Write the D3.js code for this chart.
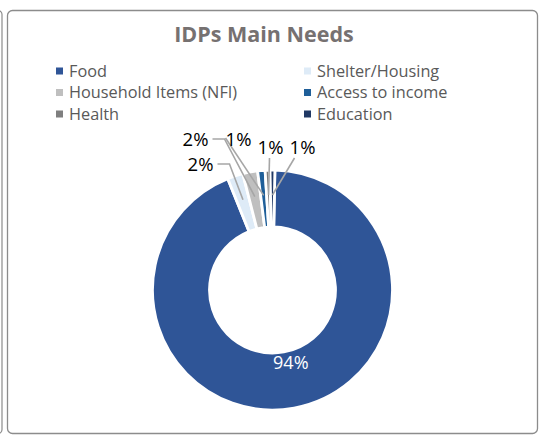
<!DOCTYPE html>
<html>
<head>
<meta charset="utf-8">
<script src="https://cdn.jsdelivr.net/npm/d3@7"></script>
<style>
  body { margin: 0; background: #fff; }
  svg { display: block; font-family: "Open Sans", "Noto Sans", sans-serif; }
</style>
</head>
<body>
<div id="chart"></div>
<script>
// data
const categories = ["Food", "Shelter/Housing", "Household Items (NFI)", "Access to income", "Health", "Education"];
const shares = [93.6, 2.1, 2.0, 1.0, 0.65, 0.65];
const labels = ["94%", "2%", "2%", "1%", "1%", "1%"];
const colors = ["#2f5597", "#deebf7", "#bfbfbf", "#1f5f99", "#7f7f7f", "#203864"];

const W = 541, H = 436;
const svg = d3.select("#chart").append("svg")
    .attr("width", W)
    .attr("height", H);

// frame(s)
svg.append("rect")
    .attr("x", -12).attr("y", 10.5)
    .attr("width", 14).attr("height", 423)
    .attr("rx", 4)
    .attr("fill", "none")
    .attr("stroke", "#8c8c8c")
    .attr("stroke-width", 1.2);
svg.append("rect")
    .attr("x", 7.5).attr("y", 10.5)
    .attr("width", 530).attr("height", 423)
    .attr("rx", 5)
    .attr("fill", "#fff")
    .attr("stroke", "#8c8c8c")
    .attr("stroke-width", 1.3);

// title
svg.append("text")
    .attr("x", 264).attr("y", 42)
    .attr("text-anchor", "middle")
    .style("font-size", "21.5px")
    .style("font-weight", "bold")
    .style("fill", "#767171")
    .text("IDPs Main Needs");

// legend, 2 columns
const legend = svg.append("g");
categories.forEach((c, i) => {
    const col = i % 2, row = Math.floor(i / 2);
    const g = legend.append("g")
        .attr("transform", `translate(${col ? 304 : 56},${71 + row * 21.5})`);
    g.append("rect")
        .attr("x", 0).attr("y", -3.5)
        .attr("width", 7).attr("height", 7)
        .attr("fill", colors[i]);
    g.append("text")
        .attr("x", 13).attr("y", 0)
        .attr("dy", "0.35em")
        .style("font-size", "16.3px")
        .style("fill", "#595959")
        .text(c);
});

// doughnut
const cx = 272.5, cy = 290;
const rOuter = 120, rInner = 63;

const pie = d3.pie().sort(null).value(d => d)
    .startAngle(0.02).endAngle(2 * Math.PI + 0.02);
const arcs = pie(shares);
const arc = d3.arc().innerRadius(rInner).outerRadius(rOuter);

const g = svg.append("g").attr("transform", `translate(${cx},${cy})`);

g.selectAll("path.slice")
    .data(arcs)
    .enter().append("path")
    .attr("class", "slice")
    .attr("d", arc)
    .attr("fill", (d, i) => colors[i])
    .attr("stroke", "#fff")
    .attr("stroke-width", 2.8);

// big label inside food slice
const innerLbl = d3.arc().innerRadius(74).outerRadius(74);
const [fx, fy] = innerLbl.centroid(arcs[0]);
g.append("text")
    .attr("x", fx + 5).attr("y", fy)
    .attr("text-anchor", "middle")
    .attr("dy", "0.35em")
    .style("font-size", "18px")
    .style("fill", "#fff")
    .text(labels[0]);

// outside labels for small slices (label spot relative to centre)
const labelSpots = [null, [-72, -125], [-77, -150], [-34, -150], [-2, -142], [30, -142]];
const tipArc = d3.arc().innerRadius(95).outerRadius(95);

arcs.forEach((d, i) => {
    if (i === 0) return;
    const [lx, ly] = labelSpots[i];
    const [tx, ty] = tipArc.centroid(d);
    let pts;
    if (i === 1 || i === 2) {
        pts = [[lx + 17, ly - 1], [lx + 29, ly - 1], [tx, ty]];
    } else if (i === 3) {
        pts = [[lx - 13, ly - 2], [tx, ty]];
    } else {
        pts = [[lx + (i === 5 ? -8 : -1), ly + 10], [tx, ty]];
    }
    g.append("path")
        .attr("d", d3.line()(pts))
        .attr("fill", "none")
        .attr("stroke", "#a6a6a6")
        .attr("stroke-width", 1.6);
    g.append("text")
        .attr("x", lx).attr("y", ly)
        .attr("text-anchor", "middle")
        .attr("dy", "0.35em")
        .style("font-size", "18.5px")
        .style("fill", "#000")
        .text(labels[i]);
});
</script>
</body>
</html>
